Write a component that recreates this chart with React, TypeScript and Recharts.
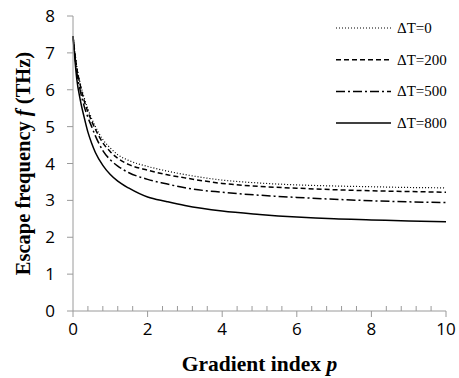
import { Label, Line, LineChart, XAxis, YAxis } from "recharts";

const pValues = [0, 0.1, 0.2, 0.3, 0.4, 0.5, 0.6, 0.8, 1, 1.2, 1.5, 2, 2.5, 3, 4, 5, 6, 7, 8, 9, 10];
const dT0 = [7.45, 6.65, 6.15, 5.78, 5.48, 5.22, 5.0, 4.65, 4.42, 4.24, 4.08, 3.92, 3.8, 3.7, 3.55, 3.47, 3.42, 3.39, 3.37, 3.35, 3.34];
const dT200 = [7.45, 6.6, 6.1, 5.7, 5.4, 5.15, 4.93, 4.56, 4.32, 4.14, 3.97, 3.82, 3.7, 3.61, 3.46, 3.38, 3.33, 3.29, 3.26, 3.24, 3.22];
const dT500 = [7.45, 6.5, 5.95, 5.55, 5.25, 5.0, 4.75, 4.35, 4.1, 3.93, 3.75, 3.57, 3.45, 3.34, 3.22, 3.14, 3.08, 3.03, 2.99, 2.96, 2.94];
const dT800 = [7.45, 6.3, 5.7, 5.25, 4.85, 4.55, 4.3, 3.95, 3.7, 3.52, 3.33, 3.09, 2.97, 2.86, 2.71, 2.62, 2.55, 2.5, 2.47, 2.44, 2.42];

const xTicks = [0, 2, 4, 6, 8, 10];
const xMinorTicks = [0.4, 0.8, 1.2, 1.6, 2.4, 2.8, 3.2, 3.6, 4.4, 4.8, 5.2, 5.6, 6.4, 6.8, 7.2, 7.6, 8.4, 8.8, 9.2, 9.6];
const yTicks = [0, 1, 2, 3, 4, 5, 6, 7, 8];

const seriesNames = ["ΔT=0", "ΔT=200", "ΔT=500", "ΔT=800"];
const seriesKeys = ["t0", "t200", "t500", "t800"];
const dashes = ["1 2", "5 3", "9 3 2 3", ""];
const widths = [1.2, 1.5, 1.5, 1.5];

const data = pValues.map((p, i) => ({ p, t0: dT0[i], t200: dT200[i], t500: dT500[i], t800: dT800[i] }));

const AXIS = "#9a9a9a";
const SANS = "'Open Sans', 'Noto Sans', sans-serif";
const SERIF = "'Liberation Serif', 'DejaVu Serif', serif";

// minor ticks: only the tick line, no label
const NoLabel = () => <g />;

const YTitle = (props: any) => {
  const { viewBox } = props;
  const cx = viewBox.x + 23;
  const cy = viewBox.y + viewBox.height / 2;
  return (
    <text x={cx} y={cy} transform={`rotate(-90 ${cx} ${cy})`} textAnchor="middle" dominantBaseline="central"
      fontFamily={SERIF} fontWeight="bold" fontSize={20.5} fill="#000">
      Escape frequency <tspan fontStyle="italic">f</tspan> (THz)
    </text>
  );
};

const XTitle = (props: any) => {
  const { viewBox } = props;
  const cx = viewBox.x + viewBox.width / 2;
  return (
    <text x={cx} y={viewBox.y + 60} textAnchor="middle" fontFamily={SERIF} fontWeight="bold" fontSize={21.5} fill="#000">
      Gradient index <tspan fontStyle="italic">p</tspan>
    </text>
  );
};

const LegendBox = () => (
  <svg width={120} height={120} style={{ position: "absolute", left: 336, top: 18 }}>
    {seriesNames.map((name, i) => {
      const y = 10 + i * 31.7;
      return (
        <g key={name}>
          <line x1={0} x2={55} y1={y} y2={y} stroke="#000" strokeWidth={widths[i]} strokeDasharray={dashes[i]} />
          <text x={61} y={y} dominantBaseline="central" fontFamily={SERIF} fontSize={15} fill="#000">{name}</text>
        </g>
      );
    })}
  </svg>
);

export default function App() {
  return (
    <div style={{ position: "absolute", left: 0, top: 0, width: 459, height: 378, background: "#fff" }}>
      <LineChart width={459} height={378} data={data} margin={{ top: 16, right: 13, bottom: 28, left: 0 }}>
        <XAxis xAxisId="minor" dataKey="p" type="number" domain={[0, 10]} ticks={xMinorTicks} interval={0}
          tick={NoLabel} height={1} mirror axisLine={{ stroke: AXIS }} tickLine={{ stroke: AXIS }} tickSize={5} />
        <XAxis xAxisId="main" dataKey="p" type="number" domain={[0, 10]} ticks={xTicks} interval={0} height={39}
          axisLine={false} tickLine={{ stroke: AXIS }} tickSize={6} tickMargin={6}
          tick={{ fill: "#000", fontSize: 17, fontFamily: SANS }}>
          <Label content={XTitle} />
        </XAxis>
        <YAxis dataKey="t0" type="number" domain={[0, 8]} ticks={yTicks} interval={0} width={73} allowDataOverflow
          axisLine={{ stroke: AXIS }} tickLine={{ stroke: AXIS }} tickSize={6} tickMargin={12}
          tick={{ fill: "#000", fontSize: 17, fontFamily: SANS }}>
          <Label content={YTitle} />
        </YAxis>
        {seriesKeys.map((k, i) => (
          <Line key={k} xAxisId="main" dataKey={k} name={seriesNames[i]} type="monotone" stroke="#000"
            strokeWidth={widths[i]} strokeDasharray={dashes[i]} dot={false} isAnimationActive={false} />
        ))}
      </LineChart>
      <LegendBox />
    </div>
  );
}
